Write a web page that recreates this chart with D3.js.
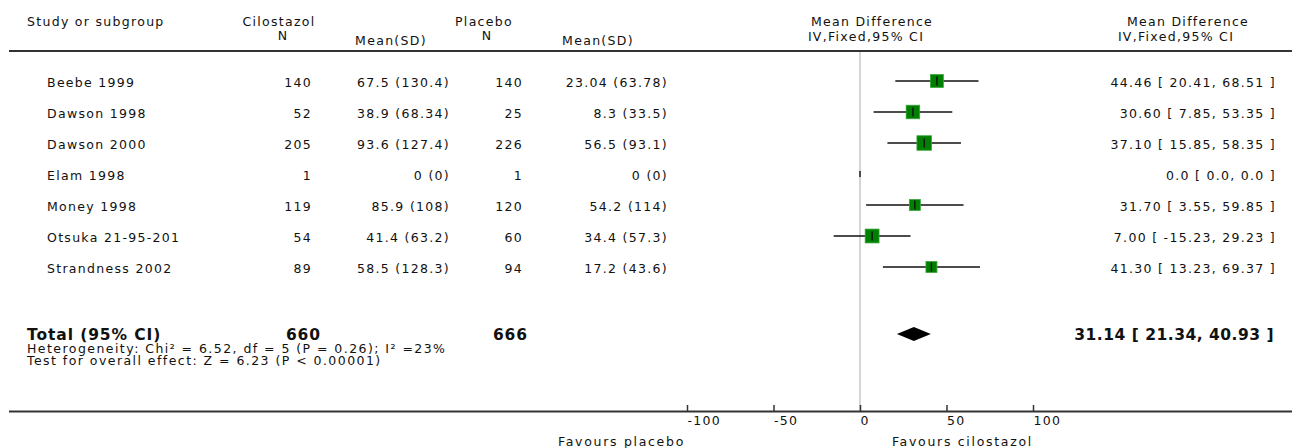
<!DOCTYPE html>
<html lang="en">
<head>
<meta charset="UTF-8">
<title>Cilostazol vs placebo</title>
<script src="https://d3js.org/d3.v7.min.js"></script>
<style>
  body { margin: 0; background: #fff; }
  svg text { font-family: "DejaVu Sans", sans-serif; fill: #111; }
  .t { font-size: 12.5px; letter-spacing: 1.3px; }
  .f { font-size: 12.5px; letter-spacing: 1.7px; }
  .b { font-size: 15.5px; font-weight: bold; letter-spacing: 0.9px; }
  .b2 { font-size: 15.5px; font-weight: bold; letter-spacing: 0.5px; }
  .s { font-size: 12.5px; letter-spacing: 1.45px; }
</style>
</head>
<body>
<div id="chart"></div>
<script>
// data
var studies = ["Beebe 1999", "Dawson 1998", "Dawson 2000", "Elam 1998", "Money 1998", "Otsuka 21-95-201", "Strandness 2002"];
var cilN = [140, 52, 205, 1, 119, 54, 89];
var cilMean = [67.5, 38.9, 93.6, 0, 85.9, 41.4, 58.5];
var cilSD = [130.4, 68.34, 127.4, 0, 108, 63.2, 128.3];
var plcN = [140, 25, 226, 1, 120, 60, 94];
var plcMean = [23.04, 8.3, 56.5, 0, 54.2, 34.4, 17.2];
var plcSD = [63.78, 33.5, 93.1, 0, 114, 57.3, 43.6];
var md = [44.46, 30.60, 37.10, 0.0, 31.70, 7.00, 41.30];
var ciLo = [20.41, 7.85, 15.85, 0.0, 3.55, -15.23, 13.23];
var ciHi = [68.51, 53.35, 58.35, 0.0, 59.85, 29.23, 69.37];
var weight = [16.6, 18.5, 21.2, 0, 12.1, 19.4, 12.2];   // % (inverse variance)

var totalCilN = 660, totalPlcN = 666;
var pooled = [31.14, 21.34, 40.93];
var hetText = "Heterogeneity: Chi\u00b2 = 6.52, df = 5 (P = 0.26); I\u00b2 =23%";
var effText = "Test for overall effect: Z = 6.23 (P < 0.00001)";
var axisTicks = [-100, -50, 0, 50, 100];

var W = 1292, H = 448;
var svg = d3.select("#chart").append("svg")
    .attr("width", W).attr("height", H);

var x = d3.scaleLinear().domain([-100, 100]).range([687, 1033]);
var y = d3.scaleLinear().domain([0, studies.length - 1]).range([81, 267]);
var size = d3.scaleSqrt().domain([0, d3.max(weight)]).range([0, 14.5]);

function txt(cls, xx, yy, s, anchor) {
  return svg.append("text").attr("class", cls).attr("x", xx).attr("y", yy)
    .attr("text-anchor", anchor || "start").text(s);
}

// header
txt("t", 27, 26, "Study or subgroup");
txt("t", 279, 26, "Cilostazol", "middle");
txt("t", 283, 40, "N", "middle");
txt("t", 391, 45, "Mean(SD)", "middle");
txt("t", 484, 26, "Placebo", "middle");
txt("t", 487, 40, "N", "middle");
txt("t", 598, 45, "Mean(SD)", "middle");
txt("t", 872, 26, "Mean Difference", "middle");
txt("t", 866, 41, "IV,Fixed,95% CI", "middle");
txt("t", 1188, 26, "Mean Difference", "middle");
txt("t", 1176, 41, "IV,Fixed,95% CI", "middle");

svg.append("line").attr("x1", 9).attr("x2", W).attr("y1", 51).attr("y2", 51)
  .attr("stroke", "#333").attr("stroke-width", 2);

// null line
svg.append("line").attr("x1", x(0)).attr("x2", x(0)).attr("y1", 52).attr("y2", 411)
  .attr("stroke", "#bbb").attr("stroke-width", 1.2);

// study rows
var rows = svg.selectAll("g.row").data(studies).enter().append("g").attr("class", "row");
function col(xx, f, anchor) {
  rows.append("text").attr("class", "t").attr("x", xx).attr("text-anchor", anchor || "end")
    .attr("y", function(d, i) { return y(i) + 6; }).text(f);
}
col(47, function(d) { return d; }, "start");
col(312, function(d, i) { return cilN[i]; });
col(450, function(d, i) { return cilMean[i] + " (" + cilSD[i] + ")"; });
col(523, function(d, i) { return plcN[i]; });
col(668, function(d, i) { return plcMean[i] + " (" + plcSD[i] + ")"; });
col(1276, function(d, i) {
  var k = weight[i] > 0 ? 2 : 1;
  return md[i].toFixed(k) + " [ " + ciLo[i].toFixed(k) + ", " + ciHi[i].toFixed(k) + " ]";
});

// CI lines + squares
rows.each(function(d, i) {
  var g = d3.select(this), yy = y(i);
  if (weight[i] > 0) {
    var s = size(weight[i]);
    g.append("line").attr("x1", x(ciLo[i])).attr("x2", x(ciHi[i]))
      .attr("y1", yy).attr("y2", yy).attr("stroke", "#111").attr("stroke-width", 1.7);
    g.append("rect").attr("x", x(md[i]) - s / 2).attr("y", yy - s / 2)
      .attr("width", s).attr("height", s)
      .attr("fill", "#008000").attr("stroke", "#3aa53a").attr("stroke-width", 0.8);
    g.append("line").attr("x1", x(md[i])).attr("x2", x(md[i]))
      .attr("y1", yy - 4.5).attr("y2", yy + 4.5).attr("stroke", "#111").attr("stroke-width", 1.4);
  } else {
    // not estimable: tiny mark on the null line
    g.append("line").attr("x1", x(md[i])).attr("x2", x(md[i]))
      .attr("y1", yy - 3).attr("y2", yy + 3).attr("stroke", "#111").attr("stroke-width", 1.4);
  }
});

// total
var yt = 334;
txt("b", 27, yt + 6, "Total (95% CI)");
txt("b", 321, yt + 6, totalCilN, "end");
txt("b", 528, yt + 6, totalPlcN, "end");
txt("b2", 1274, yt + 6, pooled[0].toFixed(2) + " [ " + pooled[1].toFixed(2) + ", " + pooled[2].toFixed(2) + " ]", "end");
svg.append("path")
  .attr("d", "M" + x(pooled[1]) + "," + yt + "L" + x(pooled[0]) + "," + (yt - 7) +
             "L" + x(pooled[2]) + "," + yt + "L" + x(pooled[0]) + "," + (yt + 7) + "Z")
  .attr("fill", "#000");
txt("s", 27, 353, hetText);
txt("s", 27, 365, effText);

// axis
svg.append("line").attr("x1", 9).attr("x2", W).attr("y1", 411.5).attr("y2", 411.5)
  .attr("stroke", "#333").attr("stroke-width", 2);
var ax = svg.append("g").attr("transform", "translate(0,411)")
  .call(d3.axisBottom(x).tickValues(axisTicks).tickSize(-6).tickPadding(5)
        .tickFormat(function(d) { return String(d); }));
ax.attr("font-family", null).attr("font-size", null);
ax.select(".domain").remove();
ax.selectAll(".tick line").attr("stroke", "#333").attr("stroke-width", 1.5);
ax.selectAll(".tick text").attr("class", "t").attr("text-anchor", "start").attr("fill", "#111");

txt("f", 685, 446, "Favours placebo", "end");
txt("f", 1033, 446, "Favours cilostazol", "end");
</script>
</body>
</html>
